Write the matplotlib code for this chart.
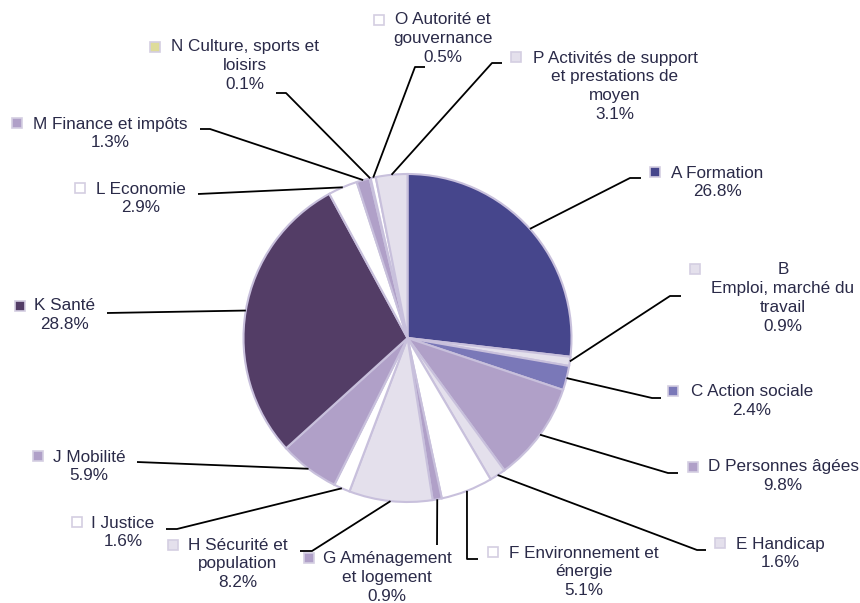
import numpy as np
import matplotlib.pyplot as plt

plt.rcParams['font.family'] = ['Liberation Sans', 'DejaVu Sans']

# data
codes = ["A", "B", "C", "D", "E", "F", "G", "H", "I", "J", "K", "L", "M", "N", "O", "P"]
names = ["Formation", "Emploi, marché du\ntravail", "Action sociale", "Personnes âgées",
         "Handicap", "Environnement et\nénergie", "Aménagement\net logement",
         "Sécurité et\npopulation", "Justice", "Mobilité", "Santé", "Economie",
         "Finance et impôts", "Culture, sports et\nloisirs", "Autorité et\ngouvernance",
         "Activités de support\net prestations de\nmoyen"]
shares = [26.8, 0.9, 2.4, 9.8, 1.6, 5.1, 0.9, 8.2, 1.6, 5.9, 28.8, 2.9, 1.3, 0.1, 0.5, 3.1]

# styles
colors = ["#46468c", "#e4e0ec", "#7a78b8", "#b0a0c8", "#e4e0ec", "#ffffff", "#b0a0c8",
          "#e4e0ec", "#ffffff", "#b0a0c8", "#533d66", "#ffffff", "#b0a0c8", "#dedc9a",
          "#ffffff", "#e4e0ec"]
txt_color = "#2a2a48"

# layout in pixels (x, y from top): text centre x, first line y, marker x, marker y
label_pos = {
    "A": (717, 173, 655, 172), "B": (783, 270, 695, 269), "C": (752, 392, 673, 391),
    "D": (783, 467, 693, 467), "E": (780, 544, 720, 543), "F": (584, 553, 493, 552),
    "G": (387, 559, 309, 558), "H": (238, 545, 173, 545), "I": (123, 523, 77, 522),
    "J": (89, 457, 38, 456), "K": (64.5, 306, 20, 306), "L": (141, 189, 80, 188),
    "M": (110, 124, 17, 123), "N": (245, 47, 155, 47), "O": (443, 20, 379, 20),
    "P": (615, 58, 516, 57),
}
# leader line points after the wedge edge
leader_pts = {
    "A": [(630, 178), (641, 178)], "B": [(670, 296), (681, 296)],
    "C": [(652, 398), (661, 398)], "D": [(668, 473), (678, 473)],
    "E": [(697, 550), (706, 550)], "F": [(467, 559), (478, 559)],
    "G": [(437, 545)], "H": [(312, 551), (300, 551)],
    "I": [(177, 529), (166, 529)], "J": [(137, 462)], "K": [(107, 313)],
    "L": [(198, 194)], "M": [(210, 129), (200, 129)],
    "N": [(286, 93), (276, 93)], "O": [(415, 67), (425, 67)],
    "P": [(492, 63), (502, 63)],
}

W, H = 860, 603
Y = lambda y: H - y
cx, cy, r = 407.5, Y(338), 164

fig = plt.figure(figsize=(W / 100, H / 100), dpi=100)
ax = fig.add_axes([0, 0, 1, 1])
wedges, _ = ax.pie(shares, colors=colors, startangle=90, counterclock=False,
                   center=(cx, cy), radius=r,
                   wedgeprops=dict(edgecolor="#c8c0dc", linewidth=1.5))
ax.set_xlim(0, W)
ax.set_ylim(0, H)
ax.set_aspect("equal")
ax.axis("off")

for i, code in enumerate(codes):
    w = wedges[i]
    mid = np.deg2rad((w.theta1 + w.theta2) / 2)
    xs = [cx + r * np.cos(mid)] + [p[0] for p in leader_pts[code]]
    ys = [cy + r * np.sin(mid)] + [Y(p[1]) for p in leader_pts[code]]
    ax.plot(xs, ys, color="black", lw=1.3, solid_capstyle="butt", zorder=3)

    tx, ty, mx, my = label_pos[code]
    if code == "B":
        label = f"{code}\n{names[i]}\n{shares[i]:.1f}%"
    else:
        label = f"{code} {names[i]}\n{shares[i]:.1f}%"
    ax.text(tx, Y(ty - 7.5), label, ha="center", va="top", multialignment="center",
            fontsize=12.3, color=txt_color, linespacing=1.33)
    ax.plot([mx], [Y(my)], marker="s", markersize=6.5, color=colors[i],
            markeredgecolor="#d4cee2", markeredgewidth=1.2)

fig.savefig("out.png", dpi=100)
